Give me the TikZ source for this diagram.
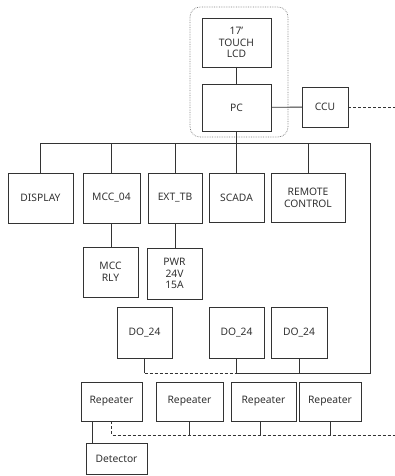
\documentclass[tikz,border=0pt]{standalone}
\usepackage{fontspec}
\setmainfont{Noto Sans}
\usetikzlibrary{calc}
\definecolor{ln}{HTML}{333333}
\definecolor{fr}{HTML}{808080}
\tikzset{
  box/.style={draw=ln, line width=0.9pt, inner sep=0pt, outer sep=0pt, align=center,
    text=ln, font=\fontsize{10.3}{11.7}\selectfont},
  wire/.style={draw=ln, line width=0.9pt},
  dwire/.style={draw=ln, line width=0.9pt, dash pattern=on 3pt off 2pt},
}
\begin{document}
\begin{tikzpicture}[x=1pt,y=-1pt]
\useasboundingbox[fill=white] (0,0) rectangle (395,476);
% frame
\draw[fr, line width=0.7pt, densely dotted, rounded corners=10pt] (190,7) rectangle (288,137);
% nodes
\node[box, minimum width=69, minimum height=49] (lcd) at (236.5,42.5) {17'\\TOUCH\\LCD};
\node[box, minimum width=69, minimum height=47] (pc) at (236.5,107.5) {PC};
\node[box, minimum width=46, minimum height=40] (ccu) at (325,107) {CCU};
\node[box, minimum width=65, minimum height=50] (display) at (40.5,198) {DISPLAY};
\node[box, minimum width=57, minimum height=50] (mcc04) at (111.5,198) {MCC\_04};
\node[box, minimum width=54, minimum height=50] (exttb) at (175,198) {EXT\_TB};
\node[box, minimum width=55, minimum height=49] (scada) at (236.5,197.5) {SCADA};
\node[box, minimum width=74, minimum height=49] (remote) at (308,197.5) {REMOTE\\CONTROL};
\node[box, minimum width=55, minimum height=50] (mccrly) at (110.5,272) {MCC\\RLY};
\node[box, minimum width=55, minimum height=51] (pwr) at (174.5,273.5) {PWR\\24V\\15A};
\node[box, minimum width=55, minimum height=51] (do1) at (144.5,332.5) {DO\_24};
\node[box, minimum width=55, minimum height=51] (do2) at (236.5,332.5) {DO\_24};
\node[box, minimum width=56, minimum height=51] (do3) at (299,332.5) {DO\_24};
\node[box, minimum width=61, minimum height=39] (rep1) at (111.5,401.5) {Repeater};
\node[box, minimum width=67, minimum height=39] (rep2) at (189.5,401.5) {Repeater};
\node[box, minimum width=65, minimum height=39] (rep3) at (263.5,401.5) {Repeater};
\node[box, minimum width=62, minimum height=39] (rep4) at (330,401.5) {Repeater};
\node[box, minimum width=61, minimum height=31] (det) at (116.5,458.5) {Detector};
% coordinates
\coordinate (busR) at (370,143);
\coordinate (busBR) at (370,373);
\coordinate (ccuEnd) at (395,107);
\coordinate (repEnd) at (395,435);
% connectors
\draw[wire] (lcd) -- (pc);
\draw[wire] (pc) -- (ccu);
\draw[dwire] (ccu.east) -- (ccuEnd);
\draw[wire] (pc) -- (scada);
\draw[wire] (display.north) -- (display.north |- busR) -- (busR) -- (busBR) -- (do2.south |- busBR) -- (do2.south);
\draw[wire] (mcc04.north) -- (mcc04.north |- busR);
\draw[wire] (exttb.north) -- (exttb.north |- busR);
\draw[wire] (remote.north) -- (remote.north |- busR);
\draw[wire] (do3.south) -- (do3.south |- busBR);
\draw[wire] (do1.south) -- (do1.south |- busBR);
\draw[dwire] (do1.south |- busBR) -- (do2.south |- busBR);
\draw[wire] (mcc04.south) -- (mcc04.south |- mccrly.north);
\draw[wire] (exttb.south) -- (exttb.south |- pwr.north);
\draw[dwire] (rep1.south) -- (rep1.south |- repEnd) -- (repEnd);
\draw[wire] (rep2.south) -- (rep2.south |- repEnd);
\draw[wire] ([xshift=-3.5pt]rep3.south) -- ([xshift=-3.5pt]rep3.south |- repEnd);
\draw[wire] (rep4.south) -- (rep4.south |- repEnd);
\draw[wire] ([xshift=-19.5pt]rep1.south) -- ([xshift=-19.5pt]rep1.south |- det.north);
\end{tikzpicture}
\end{document}
